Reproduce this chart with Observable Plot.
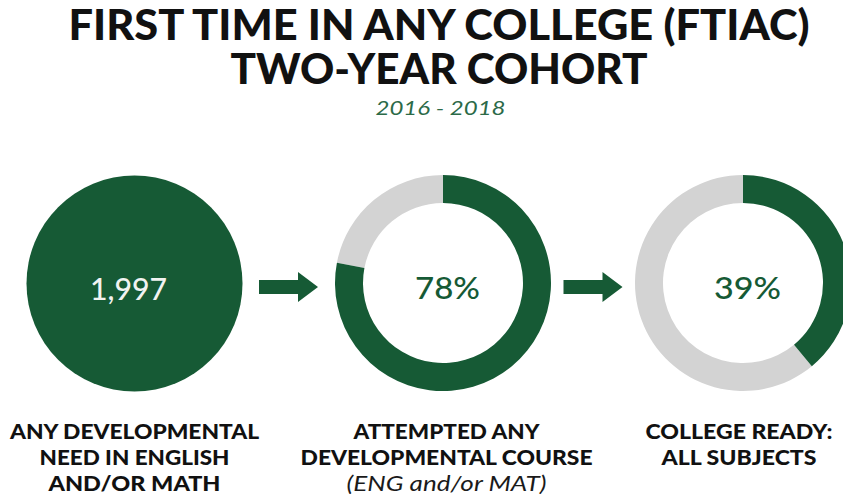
<!DOCTYPE html>
<html><head><meta charset="utf-8">
<script src="https://cdn.jsdelivr.net/npm/d3@7"></script>
<script src="https://cdn.jsdelivr.net/npm/@observablehq/plot@0.6"></script>
<style>
html,body{margin:0;padding:0;background:#fff;overflow:hidden;}
#chart svg{display:block;}
</style></head><body><div id="chart"></div>
<script>
// ---------------- data ----------------
const titleLines = ["FIRST TIME IN ANY COLLEGE (FTIAC)", "TWO-YEAR COHORT"];
const subtitleText = "2016 - 2018";
const stepIndex = [0, 1, 2];
const stepValues = [1997, 78, 39];
const stepKinds = ["count", "percent", "percent"];
const stepLabels = [
  ["ANY DEVELOPMENTAL", "NEED IN ENGLISH", "AND/OR MATH"],
  ["ATTEMPTED ANY", "DEVELOPMENTAL COURSE"],
  ["COLLEGE READY:", "ALL SUBJECTS"]
];
const stepNotes = [null, "(ENG and/or MAT)", null];

// ---------------- layout & style ----------------
const GREEN = "#165a35";
const GRAY = "#d3d3d3";
const CX = [134, 443, 743];
const CY = 283;
const R_OUT = 108, R_IN = 80;
const ARROW_Y = 287;
const TITLE_BASE = 83, TITLE_SIZE = 42, TITLE_LH = 44;
const SUB_Y = 114;
const LABEL_Y0 = 438, LABEL_LH = 26;
const LABEL_DX = [0, 3, -4.5];
const FONT = "Lato, 'Open Sans', sans-serif";
const TEXT_WIDTH = {
  "FIRST TIME IN ANY COLLEGE (FTIAC)": 741,
  "TWO-YEAR COHORT": 417,
  "2016 - 2018": 130,
  "ANY DEVELOPMENTAL": 249,
  "NEED IN ENGLISH": 190,
  "AND/OR MATH": 172,
  "ATTEMPTED ANY": 186,
  "DEVELOPMENTAL COURSE": 292,
  "(ENG and/or MAT)": 200,
  "COLLEGE READY:": 187,
  "ALL SUBJECTS": 155,
  "1,997": 77, "78%": 65, "39%": 67
};

const table = stepIndex.map(i => ({i, cx: CX[i], value: stepValues[i], kind: stepKinds[i],
  text: stepKinds[i] === "count" ? d3.format(",")(stepValues[i]) : `${stepValues[i]}%`}));

function donutArcs(index, scales) {
  const sx = scales.x || (v => v), sy = scales.y || (v => v);
  const g = d3.create("svg:g");
  const arc = d3.arc().innerRadius(R_IN).outerRadius(R_OUT);
  table.filter(d => d.kind === "percent").forEach(d => {
    const a = 2 * Math.PI * d.value / 100;
    const tr = `translate(${sx(d.cx)},${sy(CY)})`;
    g.append("path").attr("d", arc({startAngle: a, endAngle: 2 * Math.PI})).attr("fill", GRAY).attr("transform", tr);
    g.append("path").attr("d", arc({startAngle: 0, endAngle: a})).attr("fill", GREEN).attr("transform", tr);
  });
  return g.node();
}

function arrows(index, scales) {
  const sx = scales.x || (v => v), sy = scales.y || (v => v);
  const g = d3.create("svg:g").attr("fill", GREEN);
  for (let k = 0; k < table.length - 1; k++) {
    const m = (sx(table[k].cx) + sx(table[k + 1].cx)) / 2, y = sy(ARROW_Y);
    g.append("path").attr("d",
      `M${m - 29.5},${y - 7}H${m + 9.5}V${y - 15}L${m + 29.5},${y}L${m + 9.5},${y + 15}V${y + 7}H${m - 29.5}Z`);
  }
  return g.node();
}

const labelMarks = stepIndex.flatMap(i => {
  const rows = stepLabels[i].map((t, k) => ({x: CX[i], text: t, y: LABEL_Y0 + k * LABEL_LH}));
  const marks = [Plot.text(rows, {x: "x", y: "y", text: "text", dx: LABEL_DX[i], lineAnchor: "bottom",
    fontSize: 21.5, fontWeight: 900, fontFamily: FONT, fill: "#111"})];
  if (stepNotes[i]) {
    marks.push(Plot.text([{x: CX[i], text: stepNotes[i], y: LABEL_Y0 + rows.length * LABEL_LH}],
      {x: "x", y: "y", text: "text", dx: LABEL_DX[i], lineAnchor: "bottom",
       fontSize: 21, fontStyle: "italic", fontWeight: 400, fontFamily: FONT, fill: "#1a1a1a"}));
  }
  return marks;
});

const svg = Plot.plot({
  width: 843, height: 494,
  marginTop: 0, marginRight: 0, marginBottom: 0, marginLeft: 0,
  style: {background: "#fff", overflow: "hidden"},
  x: {type: "identity", axis: null},
  y: {type: "identity", axis: null},
  marks: [
    Plot.text([{text: titleLines.join("\n"), y: TITLE_BASE}], {y: "y", text: "text", frameAnchor: "top", dx: 17,
      lineAnchor: "bottom", lineHeight: TITLE_LH / TITLE_SIZE,
      fontSize: TITLE_SIZE, fontWeight: 900, fontFamily: FONT, fill: "#111"}),
    Plot.text([{text: subtitleText, y: SUB_Y}], {y: "y", text: "text", frameAnchor: "top", dx: 18.5, lineAnchor: "bottom",
      fontSize: 20, fontStyle: "italic", fontFamily: FONT, fill: "#2c6a48"}),
    Plot.dot(table.filter(d => d.kind === "count"), {x: "cx", y: () => CY, r: R_OUT, fill: GREEN, stroke: "none"}),
    donutArcs,
    arrows,
    Plot.text(table.filter(d => d.kind === "count"), {x: "cx", y: () => CY + 16, text: "text", dx: -6, lineAnchor: "bottom",
      fontSize: 31, fontWeight: 500, fontFamily: FONT, fill: "#f1f3f1"}),
    Plot.text(table.filter(d => d.kind === "percent"), {x: "cx", y: () => CY + 15, text: "text", dx: 4, lineAnchor: "bottom",
      fontSize: 31, fontWeight: 500, fontFamily: FONT, fill: GREEN}),
    ...labelMarks
  ]
});

d3.select(svg).selectAll("text, tspan").each(function () {
  if (this.tagName === "text" && this.querySelector("tspan")) return;
  const w = TEXT_WIDTH[this.textContent];
  if (w) { this.setAttribute("textLength", w); this.setAttribute("lengthAdjust", "spacingAndGlyphs"); }
});
document.getElementById("chart").appendChild(svg);
</script></body></html>
